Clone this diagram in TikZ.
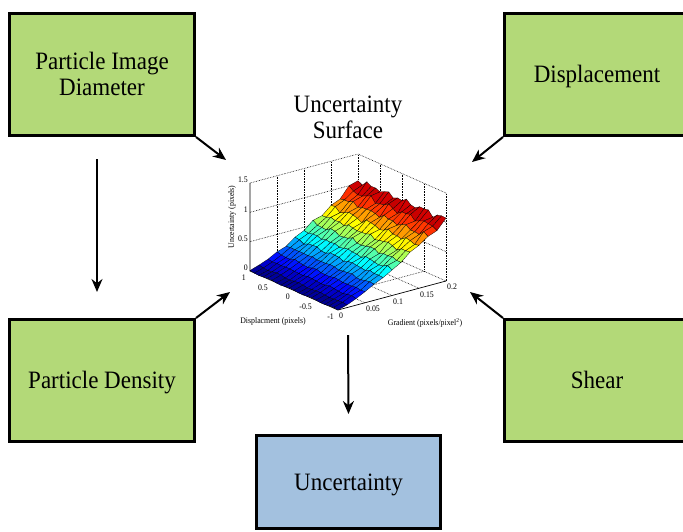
\documentclass[tikz,border=0pt]{standalone}
\usepackage{fontspec}
\setmainfont{Liberation Serif}
\usepackage{graphicx}
\usetikzlibrary{arrows.meta}
\definecolor{boxgreen}{RGB}{179,217,120}
\definecolor{boxblue}{RGB}{163,193,223}
\newcommand\sq[1]{\scalebox{0.92}[1]{#1}}
\newcommand\surfpt[3]{({338+108*(#1)-88*(#2)},{310-29*(#1)-39*(#2)-88*(#3)})}
\begin{document}
\begin{tikzpicture}[x=1pt,y=-1pt,
  box/.style={draw=black, line width=3pt, minimum width=185pt, minimum height=122pt, inner sep=0pt, font=\fontsize{25}{26}\selectfont},
  greenbox/.style={box, fill=boxgreen},
  oneline/.style={text height=18pt, text depth=2pt},
  arr/.style={-{Stealth[length=13pt,width=11pt]}, line width=2pt},
  tick/.style={font=\fontsize{8.5}{9}\selectfont, inner sep=0pt},
  grid3/.style={densely dotted, line width=0.6pt},
  axis3/.style={line width=0.7pt},
  declare function={zf(\uu,\vv)=1.05*\uu^1.25+\uu*(0.035*sin(2200*\uu+1700*\vv)+0.025*sin(3100*\vv-900*\uu))+0.01*sin(1500*\vv);}
]
\useasboundingbox (0,0) rectangle (683,531);
\clip (0,0) rectangle (683,531);

% boxes
\node[greenbox] (pid) at (102,74.5) {\sq{\begin{tabular}{@{}c@{}}\rule{0pt}{24pt}Particle Image\\Diameter\end{tabular}}};
\node[greenbox, oneline] (disp) at (597,74.5) {\sq{Displacement}};
\node[greenbox, oneline] (pd) at (102,380.5) {\sq{Particle Density}};
\node[greenbox, oneline] (shear) at (597,380.5) {\sq{Shear}};
\node[box, oneline, fill=boxblue, minimum width=184pt, minimum height=93pt] (unc) at (348.5,482) {\sq{Uncertainty}};

% title
\node[font=\fontsize{25}{25}\selectfont, inner sep=0pt] (title) at (348,120.5) {\sq{\begin{tabular}{@{}c@{}}Uncertainty\\Surface\end{tabular}}};

% arrows
\coordinate (t1) at (226,160);
\coordinate (t2) at (472,162);
\coordinate (t3) at (230,292);
\coordinate (t4) at (470,292);
\coordinate (surfbot) at (348,335);
\draw[arr] (pid.south east) -- (t1);
\draw[arr] (disp.south west) -- (t2);
\draw[arr] (pd.north east) -- (t3);
\draw[arr] (shear.north west) -- (t4);
\draw[arr] ([xshift=-5pt,yshift=-22pt]pid.south) -- ([xshift=-5pt,yshift=26pt]pd.north);
\draw[arr] (surfbot) -- ([yshift=20pt]unc.north);

% plot grid
\foreach \a in {0.25,0.5,0.75,1} \draw[grid3] \surfpt{\a}{0}{0} -- \surfpt{\a}{1}{0};
\foreach \b in {0.25,0.5,0.75,1} \draw[grid3] \surfpt{0}{\b}{0} -- \surfpt{1}{\b}{0};
\foreach \a in {0.25,0.5,0.75,1} \draw[grid3] \surfpt{\a}{1}{0} -- \surfpt{\a}{1}{1};
\foreach \c in {1/3,2/3,1} \draw[grid3] \surfpt{0}{1}{\c} -- \surfpt{1}{1}{\c};
\foreach \b in {0,0.25,0.5,0.75} \draw[grid3] \surfpt{1}{\b}{0} -- \surfpt{1}{\b}{1};
\foreach \c in {1/3,2/3,1} \draw[grid3] \surfpt{1}{0}{\c} -- \surfpt{1}{1}{\c};
\draw[axis3] \surfpt{0}{1}{1} -- \surfpt{0}{1}{0} -- \surfpt{0}{0}{0} -- \surfpt{1}{0}{0};

% surface
\foreach \i in {11,10,...,0}{
  \foreach \j in {19,18,...,0}{
    \pgfmathsetmacro\ua{\i/12}
    \pgfmathsetmacro\ub{(\i+1)/12}
    \pgfmathsetmacro\va{\j/20}
    \pgfmathsetmacro\vb{(\j+1)/20}
    \pgfmathsetmacro\zaa{zf(\ua,\va)}
    \pgfmathsetmacro\zba{zf(\ub,\va)}
    \pgfmathsetmacro\zab{zf(\ua,\vb)}
    \pgfmathsetmacro\zbb{zf(\ub,\vb)}
    \pgfmathsetmacro\myT{max(0,min(1,(\zaa+\zba+\zab+\zbb)/4/1.08))}
    \pgfmathsetmacro\myR{max(0,min(1,1.5-abs(4*\myT-3)))}
    \pgfmathsetmacro\myG{max(0,min(1,1.5-abs(4*\myT-2)))}
    \pgfmathsetmacro\myB{max(0,min(1,1.5-abs(4*\myT-1)))}
    \definecolor{fc}{rgb}{\myR,\myG,\myB}
    \filldraw[fill=fc, draw=black, line width=0.25pt]
      \surfpt{\ua}{\va}{\zaa/1.5} -- \surfpt{\ub}{\va}{\zba/1.5} --
      \surfpt{\ub}{\vb}{\zbb/1.5} -- \surfpt{\ua}{\vb}{\zab/1.5} -- cycle;
  }
}

% tick labels
\foreach \c/\lab [count=\k] in {0/0,1/0.5,2/1,3/1.5}
  \node[tick, anchor=east] (zt\k) at ({248},{268-88*\c/3}) {\sq{\lab}};
\foreach \v/\lab [count=\k] in {1/1,0.75/0.5,0.5/0,0.25/-0.5,0/-1}
  \node[tick, anchor=east] (dt\k) at ({338-88*\v-4},{310-39*\v+6.5}) {\sq{\lab}};
\foreach \u/\lab [count=\k] in {0/0,0.25/0.05,0.5/0.1,0.75/0.15,1/0.2}
  \node[tick, anchor=west] (gt\k) at ({338+108*\u+1},{310-29*\u+6}) {\sq{\lab}};

% axis labels
\node[tick, rotate=90] (zl) at (232,217) {\sq{Uncertainty (pixels)}};
\node[tick] (dl) at (273,321) {\sq{Displacment (pixels)}};
\node[tick] (gl) at (425,323) {\sq{Gradient (pixels/pixel\textsuperscript{2})}};
\end{tikzpicture}
\end{document}
